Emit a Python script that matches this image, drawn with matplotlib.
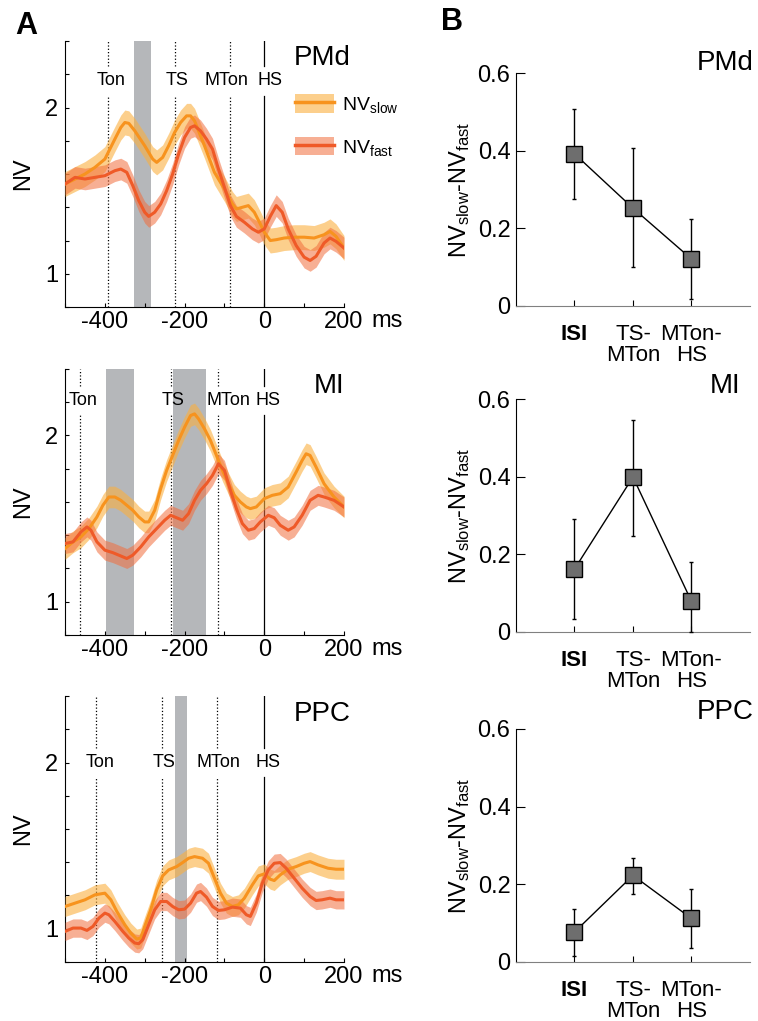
import numpy as np
import matplotlib
matplotlib.use("Agg")
import matplotlib.pyplot as plt
from matplotlib.patches import Patch
from matplotlib.lines import Line2D

plt.rcParams['font.family'] = ['Liberation Sans', 'DejaVu Sans']
plt.rcParams['mathtext.fontset'] = 'custom'
plt.rcParams['mathtext.rm'] = 'Liberation Sans'
plt.rcParams['mathtext.it'] = 'Liberation Sans'
plt.rcParams['mathtext.bf'] = 'Liberation Sans:bold'
plt.rcParams['mathtext.default'] = 'regular'

# ---------------- data ----------------
areas = ['PMd', 'MI', 'PPC']

# PMd
pmd_t_slow = [-500, -475, -450, -425, -400, -375, -360, -350, -340, -325, -300, -280, -270, -255, -240,
              -225, -210, -195, -185, -175, -165, -150, -125, -100, -80, -70, -55, -40, -25, -10, 0, 15,
              30, 50, 75, 100, 125, 150, 165, 180, 200]
pmd_slow = [1.54, 1.57, 1.60, 1.64, 1.69, 1.81, 1.88, 1.91, 1.905, 1.86, 1.77, 1.69, 1.67, 1.70, 1.77,
            1.85, 1.91, 1.95, 1.95, 1.92, 1.86, 1.77, 1.61, 1.51, 1.42, 1.39, 1.40, 1.41, 1.37, 1.30, 1.25, 1.20,
            1.205, 1.215, 1.22, 1.22, 1.215, 1.235, 1.255, 1.225, 1.155]
pmd_t_fast = [-500, -475, -450, -425, -400, -375, -360, -345, -330, -315, -300, -290, -275, -260, -245,
              -230, -215, -200, -185, -175, -160, -145, -130, -115, -100, -85, -70, -50, -30, -15, 0, 15,
              30, 45, 60, 80, 100, 115, 130, 150, 165, 180, 200]
pmd_fast = [1.54, 1.58, 1.57, 1.58, 1.59, 1.62, 1.63, 1.61, 1.53, 1.44, 1.37, 1.345, 1.37, 1.42, 1.50,
            1.60, 1.72, 1.82, 1.88, 1.89, 1.86, 1.81, 1.75, 1.63, 1.52, 1.41, 1.345, 1.31, 1.27, 1.25, 1.27, 1.345,
            1.41, 1.37, 1.27, 1.17, 1.10, 1.08, 1.105, 1.185, 1.215, 1.195, 1.155]

# MI
mi_t_slow = [-500, -480, -460, -440, -420, -405, -390, -375, -360, -345, -330, -315, -300, -290, -275,
             -260, -245, -230, -215, -200, -185, -175, -165, -150, -135, -120, -105, -90, -75, -60, -45,
             -35, -20, 0, 20, 40, 60, 80, 95, 105, 115, 130, 150, 175, 200]
mi_slow = [1.32, 1.36, 1.39, 1.44, 1.51, 1.58, 1.63, 1.63, 1.61, 1.58, 1.55, 1.51, 1.48, 1.48, 1.55,
           1.68, 1.79, 1.88, 1.97, 2.05, 2.12, 2.13, 2.10, 2.04, 1.97, 1.88, 1.79, 1.71, 1.64, 1.60, 1.57,
           1.56, 1.57, 1.62, 1.64, 1.65, 1.69, 1.78, 1.85, 1.89, 1.88, 1.81, 1.71, 1.63, 1.57]
mi_t_fast = [-500, -480, -460, -445, -435, -420, -400, -380, -360, -345, -330, -310, -290, -270, -250,
             -235, -220, -205, -190, -175, -160, -145, -130, -115, -100, -85, -70, -55, -40, -25, -10,
             10, 25, 40, 60, 75, 95, 115, 135, 150, 175, 200]
mi_fast = [1.35, 1.36, 1.42, 1.45, 1.43, 1.36, 1.31, 1.295, 1.275, 1.26, 1.28, 1.33, 1.39, 1.44, 1.49,
           1.52, 1.505, 1.49, 1.53, 1.61, 1.67, 1.71, 1.76, 1.83, 1.79, 1.67, 1.56, 1.47, 1.43, 1.44, 1.48,
           1.52, 1.505, 1.46, 1.43, 1.45, 1.52, 1.61, 1.64, 1.63, 1.61, 1.57]

# PPC
ppc_t_slow = [-500, -475, -450, -425, -400, -385, -370, -350, -335, -320, -310, -300, -285, -270, -255,
              -240, -220, -205, -190, -175, -155, -140, -125, -110, -95, -80, -65, -50, -30, -15, 0,
              15, 25, 40, 60, 80, 100, 115, 135, 160, 180, 200]
ppc_slow = [1.134, 1.154, 1.174, 1.204, 1.214, 1.174, 1.104, 1.024, 0.974, 0.938, 0.944, 1.014, 1.114,
            1.234, 1.318, 1.354, 1.374, 1.398, 1.424, 1.434, 1.424, 1.394, 1.304, 1.214, 1.154, 1.134,
            1.144, 1.184, 1.264, 1.318, 1.33, 1.298, 1.29, 1.324, 1.358, 1.374, 1.394, 1.404, 1.384,
            1.364, 1.358, 1.358]
ppc_t_fast = [-500, -480, -460, -445, -430, -415, -400, -390, -375, -355, -340, -325, -315, -305, -290,
              -275, -260, -245, -230, -215, -200, -185, -170, -160, -145, -130, -115, -100, -80, -60,
              -45, -35, -20, -5, 10, 25, 40, 55, 75, 95, 115, 130, 145, 165, 180, 200]
ppc_fast = [0.984, 1.004, 1.004, 0.99, 1.014, 1.064, 1.094, 1.084, 1.044, 0.984, 0.944, 0.914, 0.91,
            0.934, 1.024, 1.114, 1.164, 1.164, 1.134, 1.114, 1.118, 1.154, 1.214, 1.224, 1.19, 1.134,
            1.11, 1.114, 1.13, 1.124, 1.084, 1.074, 1.154, 1.274, 1.354, 1.394, 1.398, 1.364, 1.304,
            1.244, 1.194, 1.17, 1.174, 1.184, 1.174, 1.174]

# band half-widths (slow, fast)
band_sem = {'PMd': (0.075, 0.065), 'MI': (0.065, 0.06), 'PPC': (0.06, 0.055)}

# event times (Ton, TS, MTon, HS) and significant windows
event_names = ['Ton', 'TS', 'MTon', 'HS']
pmd_events = [-392, -225, -86, 0]
mi_events = [-463, -235, -116, 0]
ppc_events = [-422, -257, -118, 0]
pmd_windows = [(-327, -285)]
mi_windows = [(-398, -328), (-230, -147)]
ppc_windows = [(-225, -193)]

# panel B: NV_slow - NV_fast per epoch
epochs = ['ISI', 'TS-\nMTon', 'MTon-\nHS']
pmd_diff = [0.392, 0.252, 0.121]
pmd_lo = [0.276, 0.101, 0.018]
pmd_hi = [0.508, 0.408, 0.224]
mi_diff = [0.162, 0.399, 0.079]
mi_lo = [0.033, 0.246, 0.0]
mi_hi = [0.291, 0.546, 0.179]
ppc_diff = [0.077, 0.223, 0.112]
ppc_lo = [0.015, 0.176, 0.036]
ppc_hi = [0.136, 0.268, 0.189]

# ---------------- styling ----------------
slow_line = '#f7931e'
fast_line = '#ef5a28'
slow_fill = '#fbb040'
fast_fill = '#f26d3d'
bar_grey = '#b5b7ba'

curves = {
    'PMd': (pmd_t_slow, pmd_slow, pmd_t_fast, pmd_fast, pmd_events, pmd_windows),
    'MI': (mi_t_slow, mi_slow, mi_t_fast, mi_fast, mi_events, mi_windows),
    'PPC': (ppc_t_slow, ppc_slow, ppc_t_fast, ppc_fast, ppc_events, ppc_windows),
}
diffs = {
    'PMd': (pmd_diff, pmd_lo, pmd_hi),
    'MI': (mi_diff, mi_lo, mi_hi),
    'PPC': (ppc_diff, ppc_lo, ppc_hi),
}

# layout (figure fractions) and label placement
left_rects = [(0.0858, 0.6993, 0.368, 0.2605),
              (0.0858, 0.3781, 0.368, 0.2605),
              (0.0858, 0.0578, 0.368, 0.2605)]
right_rects = [(0.6807, 0.7003, 0.3087, 0.2282),
               (0.6807, 0.3810, 0.3087, 0.2282),
               (0.6807, 0.0578, 0.3087, 0.2282)]
label_y = {'PMd': 2.16, 'MI': 2.21, 'PPC': 2.0}
label_dx = {'PMd': [8, 5, -9, 14], 'MI': [9, 5, 25, 10], 'PPC': [9, 5, 2, 10]}
title_pos = {'PMd': (146, 2.30), 'MI': (163, 2.30), 'PPC': (146, 2.29)}
rtitle_y = {'PMd': 0.625, 'MI': 0.633, 'PPC': 0.645}

fig = plt.figure(figsize=(7.58, 10.21), dpi=100)

y0, y1 = 0.8, 2.4
for i, area in enumerate(areas):
    ts, vs, tf, vf, ev, win = curves[area]
    sem_s, sem_f = band_sem[area]
    ax = fig.add_axes(left_rects[i])

    for a, b in win:
        ax.axvspan(a, b, color=bar_grey, lw=0, zorder=1)

    ly = label_y[area]
    frac = (ly - y0) / (y1 - y0)
    gap = 0.055
    for k, (name, t) in enumerate(zip(event_names, ev)):
        ls = '-' if name == 'HS' else ':'
        ax.axvline(t, ymin=0, ymax=frac - gap, color='k', ls=ls, lw=0.9, zorder=2)
        ax.axvline(t, ymin=frac + gap, ymax=1, color='k', ls=ls, lw=0.9, zorder=2)
        ax.text(t + label_dx[area][k], ly, name, ha='center', va='center', fontsize=13, zorder=5)

    vs = np.array(vs)
    vf = np.array(vf)
    ax.fill_between(ts, vs - sem_s, vs + sem_s, color=slow_fill, alpha=0.6, lw=0, zorder=3)
    ax.fill_between(tf, vf - sem_f, vf + sem_f, color=fast_fill, alpha=0.55, lw=0, zorder=3)
    ax.plot(ts, vs, color=slow_line, lw=2.2, zorder=4)
    ax.plot(tf, vf, color=fast_line, lw=2.2, zorder=4)

    ax.set_xlim(-500, 200)
    ax.set_ylim(y0, y1)
    ax.set_xticks(np.arange(-500, 201, 100))
    ax.set_xticklabels(['', '-400', '', '-200', '', '0', '', '200'])
    ax.set_yticks(np.arange(0.8, 2.41, 0.2))
    ax.set_yticklabels(['', '1', '', '', '', '', '2', '', ''])
    ax.tick_params(axis='x', direction='in', length=3, labelsize=17, pad=3)
    ax.tick_params(axis='y', direction='in', length=3, labelsize=17, pad=5)
    ax.spines['top'].set_visible(False)
    ax.spines['right'].set_visible(False)
    ax.set_ylabel('NV', fontsize=17, labelpad=8)
    ax.annotate('ms', xy=(1, 0), xycoords='axes fraction', xytext=(20, -14.5),
                textcoords='offset points', ha='left', va='baseline', fontsize=17)
    tx, ty = title_pos[area]
    ax.text(tx, ty, area, ha='center', va='center', fontsize=20)

    if i == 0:
        h_slow = (Patch(facecolor=slow_fill, alpha=0.6, edgecolor='none'),
                  Line2D([], [], color=slow_line, lw=2.5))
        h_fast = (Patch(facecolor=fast_fill, alpha=0.55, edgecolor='none'),
                  Line2D([], [], color=fast_line, lw=2.5))
        ax.legend([h_slow, h_fast], [r'NV$_{\mathrm{slow}}$', r'NV$_{\mathrm{fast}}$'],
                  loc='upper left', bbox_to_anchor=(0.825, 0.80), frameon=False,
                  fontsize=14, handlelength=2.0, handleheight=1.1, labelspacing=1.1,
                  handletextpad=0.4, borderpad=0, borderaxespad=0)

    # panel B
    d, lo, hi = diffs[area]
    d = np.array(d)
    xs = np.arange(1, len(epochs) + 1)
    axr = fig.add_axes(right_rects[i])
    axr.errorbar(xs, d, yerr=[d - np.array(lo), np.array(hi) - d], color='k', lw=1,
                 elinewidth=1, capsize=1.5, capthick=1, marker='s', markersize=12,
                 markerfacecolor='#6e6e6e', markeredgecolor='k', markeredgewidth=1,
                 clip_on=False, zorder=3)
    axr.set_xlim(0, 4)
    axr.set_ylim(0, 0.6)
    axr.set_xticks(xs)
    axr.set_xticklabels(epochs, fontsize=16, linespacing=1.0)
    axr.get_xticklabels()[0].set_fontweight('bold')
    axr.set_yticks([0, 0.2, 0.4, 0.6])
    axr.set_yticklabels(['0', '0.2', '0.4', '0.6'])
    axr.tick_params(axis='x', direction='in', length=4, pad=13)
    axr.tick_params(axis='y', direction='in', length=6.5, labelsize=17, pad=4)
    axr.spines['top'].set_visible(False)
    axr.spines['right'].set_visible(False)
    axr.spines['bottom'].set_color('#808080')
    axr.set_ylabel(r'NV$_{\mathrm{slow}}$-NV$_{\mathrm{fast}}$', fontsize=17, labelpad=4)
    axr.text(3.57, rtitle_y[area], area, ha='center', va='center', fontsize=20, clip_on=False)

fig.text(0.035, 0.975, 'A', fontsize=22, fontweight='bold', ha='center', va='center')
fig.text(0.596, 0.978, 'B', fontsize=22, fontweight='bold', ha='center', va='center')

fig.savefig('out.png', dpi=100)
